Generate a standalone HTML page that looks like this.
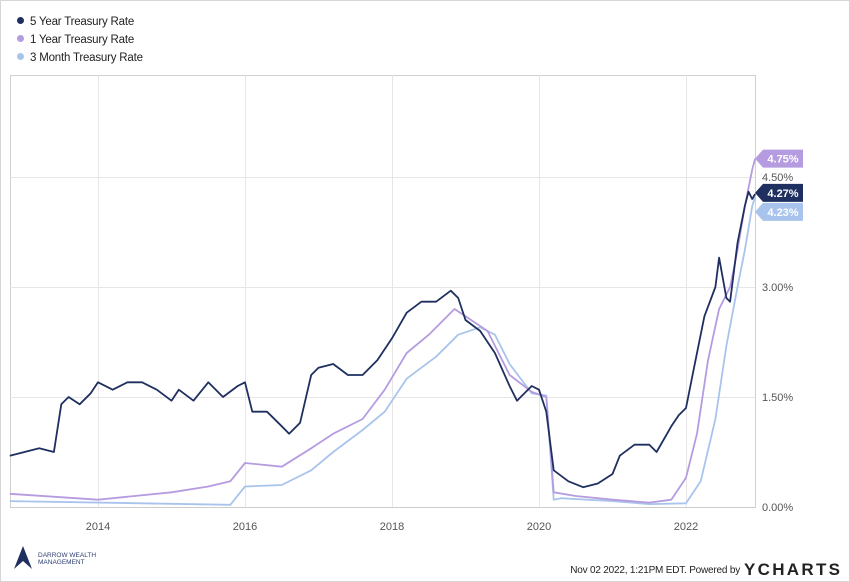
<!DOCTYPE html>
<html><head><meta charset="utf-8">
<style>
body{margin:0;background:#fff;font-family:"Liberation Sans",sans-serif;}
#wrap{position:relative;width:848px;height:580px;border:1px solid #d6d6d6;overflow:hidden;}
.leg{position:absolute;left:16px;font-size:11.5px;color:#222;letter-spacing:-0.2px;}
.leg span{display:inline-block;width:7px;height:7px;border-radius:50%;margin-right:6px;vertical-align:1px;}
</style></head><body>
<div id="wrap">
<div class="leg" style="top:15px"><span style="background:#1f2f5f"></span>5 Year Treasury Rate</div>
<div class="leg" style="top:33px"><span style="background:#b59ce0"></span>1 Year Treasury Rate</div>
<div class="leg" style="top:51px"><span style="background:#a9c4ec"></span>3 Month Treasury Rate</div>
<svg id="chart" width="850" height="582" style="position:absolute;left:-1px;top:-1px"></svg>
</div>
<script>
const yTicks=[0,1.5,3,4.5];
const xYears=[2014,2016,2018,2020,2022];
const t5=[2012.8,2013.0,2013.2,2013.4,2013.5,2013.6,2013.75,2013.9,2014.0,2014.2,2014.4,2014.6,2014.8,2015.0,2015.1,2015.3,2015.5,2015.7,2015.9,2016.0,2016.1,2016.3,2016.5,2016.6,2016.75,2016.9,2017.0,2017.2,2017.4,2017.6,2017.8,2018.0,2018.2,2018.4,2018.6,2018.8,2018.9,2019.0,2019.2,2019.4,2019.6,2019.7,2019.9,2020.0,2020.1,2020.2,2020.4,2020.6,2020.8,2021.0,2021.1,2021.3,2021.5,2021.6,2021.8,2021.9,2022.0,2022.1,2022.25,2022.4,2022.45,2022.55,2022.6,2022.65,2022.7,2022.8,2022.85,2022.9,2022.94];
const v5=[0.7,0.75,0.8,0.75,1.4,1.5,1.4,1.55,1.7,1.6,1.7,1.7,1.6,1.45,1.6,1.45,1.7,1.5,1.65,1.7,1.3,1.3,1.1,1.0,1.15,1.8,1.9,1.95,1.8,1.8,2.0,2.3,2.65,2.8,2.8,2.95,2.85,2.55,2.4,2.1,1.65,1.45,1.65,1.6,1.3,0.5,0.35,0.27,0.32,0.45,0.7,0.85,0.85,0.75,1.1,1.25,1.35,1.85,2.6,3.0,3.4,2.85,2.8,3.2,3.6,4.1,4.3,4.2,4.27];
const t1=[2012.8,2014.0,2015.0,2015.5,2015.8,2016.0,2016.5,2016.9,2017.2,2017.6,2017.9,2018.2,2018.5,2018.85,2019.0,2019.3,2019.6,2019.9,2020.1,2020.2,2020.5,2021.0,2021.5,2021.8,2022.0,2022.15,2022.3,2022.45,2022.6,2022.7,2022.8,2022.9,2022.94];
const v1=[0.18,0.1,0.2,0.28,0.35,0.6,0.55,0.8,1.0,1.2,1.6,2.1,2.35,2.7,2.6,2.4,1.8,1.57,1.5,0.2,0.15,0.1,0.06,0.1,0.4,1.0,2.0,2.7,3.0,3.5,4.1,4.6,4.75];
const t3=[2012.8,2015.8,2016.0,2016.5,2016.9,2017.2,2017.6,2017.9,2018.2,2018.6,2018.9,2019.2,2019.4,2019.6,2019.9,2020.1,2020.2,2020.3,2021.0,2021.5,2022.0,2022.2,2022.4,2022.55,2022.7,2022.8,2022.9,2022.94];
const v3=[0.08,0.03,0.28,0.3,0.5,0.75,1.05,1.3,1.75,2.05,2.35,2.45,2.35,1.95,1.55,1.52,0.1,0.12,0.08,0.04,0.05,0.35,1.2,2.2,3.0,3.5,4.1,4.23];
const lastLabels=["4.75%","4.27%","4.23%"];
const NS="http://www.w3.org/2000/svg";
const svg=document.getElementById('chart');
const X0=10,X1=755,Y0=507,YT=75;
const xs=t=>98+(t-2014)*73.5;
const ys=v=>Y0-v*73.33;
function mk(tag,at,txt){const e=document.createElementNS(NS,tag);for(const k in at)e.setAttribute(k,at[k]);if(txt!=null)e.textContent=txt;svg.appendChild(e);return e;}
const box=mk('rect',{x:X0+0.5,y:YT+0.5,width:X1-X0,height:Y0-YT,fill:'none',stroke:'#d0d0d0'});


yTicks.forEach(v=>{
 const l=mk('line',{x1:X0,x2:X1,y1:ys(v)+0.5,y2:ys(v)+0.5,stroke:v===0?'#cccccc':'#e6e6e6','stroke-width':1});
 
 
 const t=mk('text',{x:762,y:ys(v)+4,'font-size':11,fill:'#555','font-family':'Liberation Sans'},v.toFixed(2)+'%');
 
 
});
xYears.forEach(y=>{
 const l=mk('line',{x1:xs(y)+0.5,x2:xs(y)+0.5,y1:YT,y2:Y0,stroke:'#e6e6e6','stroke-width':1});
 
 
 const t=mk('text',{x:xs(y),y:530,'font-size':11,fill:'#555','text-anchor':'middle','font-family':'Liberation Sans'},String(y));
 
 
});
function series(ts,vs,col,name){
 const d=ts.map((t,i)=>(i?'L':'M')+xs(t).toFixed(1)+','+ys(vs[i]).toFixed(1)).join('');
 const p=mk('path',{d:d,fill:'none',stroke:col,'stroke-width':1.8,'stroke-linejoin':'round'});
 
 
}
series(t3,v3,'#a9c4ec','series-3-month');
series(t1,v1,'#b59ce0','series-1-year');
series(t5,v5,'#1f2f5f','series-5-year');
function tag(v,txt,col,name,yoff){
 const y=ys(v)+(yoff||0);
 const g=mk('path',{d:`M${X1},${y} L${X1+8},${y-9} L${X1+48},${y-9} L${X1+48},${y+9} L${X1+8},${y+9} Z`,fill:col});
 
 
 const t=mk('text',{x:X1+28,y:y+4,'font-size':11,'font-weight':'bold',fill:'#fff','text-anchor':'middle','font-family':'Liberation Sans'},txt);
 
 
}
tag(v1[v1.length-1],lastLabels[0],'#b59ce0','last-value-1-year',0);
tag(v5[v5.length-1],lastLabels[1],'#1f2f5f','last-value-5-year',-1);
tag(v3[v3.length-1],lastLabels[2],'#a9c4ec','last-value-3-month',15);
const lg=mk('path',{d:'M14,569 L23,546 L32,569 L23,561 Z',fill:'#1f2f5f'});


[['DARROW WEALTH',557],['MANAGEMENT',564]].forEach(([s,y])=>{const t=mk('text',{x:38,y:y,'font-size':6.5,fill:'#2c3e70','font-family':'Liberation Sans'},s);
 
 });
const ft=mk('text',{x:740,y:573,'font-size':10,fill:'#222','text-anchor':'end','font-family':'Liberation Sans','letter-spacing':'-0.2'},'Nov 02 2022, 1:21PM EDT.  Powered by');


const yc=mk('text',{x:744,y:575,'font-size':17,'font-weight':'bold',fill:'#222','font-family':'Liberation Sans','textLength':96},'YCHARTS');


</script>
</body></html>
